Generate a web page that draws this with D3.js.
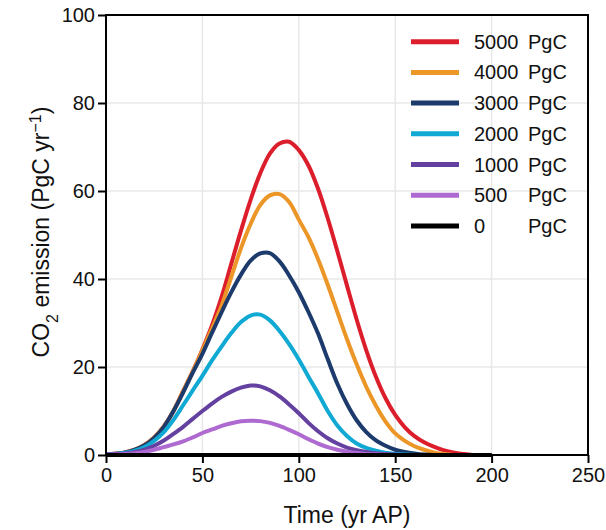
<!DOCTYPE html>
<html>
<head>
<meta charset="utf-8">
<script src="https://cdn.jsdelivr.net/npm/d3@7"></script>
<style>
  body { margin: 0; background: #fff; }
  text { font-family: "Liberation Sans", Arial, sans-serif; fill: #111; }
</style>
</head>
<body>
<svg id="chart" width="606" height="530"></svg>
<script>
// data (PgC/yr at 5-year steps, 0..200 yr AP)
const years = d3.range(0, 201, 5);
const seriesNames = ["5000", "4000", "3000", "2000", "1000", "500", "0"];
const seriesColors = ["#dc1e2c", "#ec9628", "#1c3b6c", "#0fa9d4", "#6440a0", "#ae6ad0", "#000000"];
const e5000 = [0.2, 0.3, 0.6, 1.2, 2.3, 4, 6.5, 10, 14.5, 19, 24, 29.5, 36, 43.5, 51, 58, 64, 68.5, 70.8, 71.2,
    69.3, 65.8, 60.5, 53.8, 46.3, 38.5, 30.8, 23.8, 17.8, 12.9, 9.1, 6.3, 4.3, 2.9, 1.9, 1.1, 0.6, 0.25, 0, 0, 0];
const e4000 = [0.2, 0.3, 0.6, 1.2, 2.3, 4, 6.5, 10, 14.5, 19, 23.8, 28.8, 34, 40.5, 47, 52.5, 56.8, 59, 59.3, 57.5,
    53.5, 49.5, 44.5, 38.7, 32.5, 26.3, 20.6, 15.5, 11.2, 7.6, 4.9, 3.2, 2, 1.2, 0.6, 0.25, 0, 0, 0, 0, 0];
const e3000 = [0.2, 0.3, 0.6, 1.2, 2.2, 3.9, 6.4, 10, 14.2, 18.7, 23, 27.8, 32.5, 37, 41, 44.2, 45.8, 45.9, 44, 40.8,
    37, 32.5, 27.6, 21.8, 16.2, 11.6, 7.9, 5.2, 3.3, 2.1, 1.2, 0.7, 0.35, 0.1, 0, 0, 0, 0, 0, 0, 0];
const e2000 = [0.15, 0.25, 0.5, 1, 1.8, 3.2, 5.2, 8, 11.3, 14.7, 18, 21.5, 24.7, 27.7, 30.2, 31.7, 31.9, 30.6, 28.2, 25.2,
    21.7, 17.8, 14, 10, 6.7, 4.3, 2.6, 1.6, 1, 0.5, 0.25, 0.1, 0, 0, 0, 0, 0, 0, 0, 0, 0];
const e1000 = [0.1, 0.2, 0.35, 0.7, 1.2, 2.1, 3.3, 4.8, 6.4, 8.2, 10, 11.7, 13.2, 14.4, 15.3, 15.8, 15.6, 14.7, 13.3, 11.5,
    9.5, 7.3, 5.4, 3.8, 2.6, 1.7, 1.1, 0.7, 0.4, 0.2, 0.1, 0, 0, 0, 0, 0, 0, 0, 0, 0, 0];
const e500 = [0.05, 0.1, 0.2, 0.4, 0.7, 1.2, 1.8, 2.4, 3.1, 4, 5, 5.8, 6.6, 7.2, 7.65, 7.8, 7.7, 7.3, 6.6, 5.7,
    4.7, 3.6, 2.6, 1.8, 1.2, 0.75, 0.45, 0.25, 0.15, 0.05, 0, 0, 0, 0, 0, 0, 0, 0, 0, 0, 0];
const e0 = [0, 0, 0, 0, 0, 0, 0, 0, 0, 0, 0, 0, 0, 0, 0, 0, 0, 0, 0, 0,
    0, 0, 0, 0, 0, 0, 0, 0, 0, 0, 0, 0, 0, 0, 0, 0, 0, 0, 0, 0, 0];
const xTicks = [0, 50, 100, 150, 200, 250];
const yTicks = [0, 20, 40, 60, 80, 100];

const allValues = [e5000, e4000, e3000, e2000, e1000, e500, e0];
const series = seriesNames.map((name, i) => ({
    name: name,
    color: seriesColors[i],
    points: years.map((t, j) => ({ t: t, v: allValues[i][j] }))
}));

const margin = { top: 15, right: 18, bottom: 75, left: 106 };
const width = 606 - margin.left - margin.right;
const height = 530 - margin.top - margin.bottom;

const svg = d3.select("#chart")
    .append("g")
    .attr("transform", `translate(${margin.left},${margin.top})`);

const x = d3.scaleLinear().domain([0, 250]).range([0, width]);
const y = d3.scaleLinear().domain([0, 100]).range([height, 0]);

// grid
svg.append("g").selectAll("line")
    .data(xTicks)
    .join("line")
    .attr("x1", d => x(d)).attr("x2", d => x(d))
    .attr("y1", 0).attr("y2", height)
    .attr("stroke", "#e8e8e8").attr("stroke-width", 1.5);

svg.append("g").selectAll("line")
    .data(yTicks)
    .join("line")
    .attr("x1", 0).attr("x2", width)
    .attr("y1", d => y(d)).attr("y2", d => y(d))
    .attr("stroke", "#e8e8e8").attr("stroke-width", 1.5);

// curves
const line = d3.line()
    .x(d => x(d.t))
    .y(d => y(Math.max(0, d.v)))
    .curve(d3.curveCatmullRom.alpha(0.5));

svg.append("g").selectAll("path")
    .data(series)
    .join("path")
    .attr("d", d => line(d.points))
    .attr("fill", "none")
    .attr("stroke", d => d.color)
    .attr("stroke-width", 4)
    .attr("stroke-linejoin", "round");

// axes
const xAxis = svg.append("g")
    .attr("transform", `translate(0,${height})`)
    .call(d3.axisBottom(x).tickValues(xTicks).tickSize(8).tickPadding(5));

const yAxis = svg.append("g")
    .call(d3.axisLeft(y).tickValues(yTicks).tickSize(8).tickPadding(3));

[xAxis, yAxis].forEach(a => {
    a.select(".domain").remove();
    a.selectAll(".tick line").attr("stroke", "#000").attr("stroke-width", 2);
    a.selectAll(".tick text")
        .style("font-family", "'Liberation Sans', Arial, sans-serif")
        .style("font-size", "20px")
        .attr("fill", "#111");
});

// frame
svg.append("rect")
    .attr("width", width)
    .attr("height", height)
    .attr("fill", "none")
    .attr("stroke", "#000")
    .attr("stroke-width", 2);

// axis titles
svg.append("text")
    .attr("x", width / 2)
    .attr("y", height + 68)
    .attr("text-anchor", "middle")
    .style("font-size", "23px")
    .text("Time (yr AP)");

const yTitle = svg.append("text")
    .attr("transform", `translate(${48.5 - margin.left},${height / 2 - 3}) rotate(-90)`)
    .attr("text-anchor", "middle")
    .style("font-size", "23px");
yTitle.append("tspan").text("CO");
yTitle.append("tspan").attr("baseline-shift", "sub").style("font-size", "16px").text("2");
yTitle.append("tspan").text(" emission (PgC yr");
yTitle.append("tspan").attr("baseline-shift", "super").style("font-size", "16px").text("\u22121");
yTitle.append("tspan").text(")");

// legend
const legend = svg.append("g")
    .attr("transform", `translate(${411 - margin.left},${41.7 - margin.top})`);

const rows = legend.selectAll("g")
    .data(series)
    .join("g")
    .attr("transform", (d, i) => `translate(0,${i * 30.7})`);

rows.append("line")
    .attr("x1", 0).attr("x2", 48)
    .attr("stroke", d => d.color)
    .attr("stroke-width", 5);

rows.append("text")
    .attr("x", 63)
    .attr("dy", "0.35em")
    .style("font-size", "20px")
    .text(d => d.name);

rows.append("text")
    .attr("x", 117)
    .attr("dy", "0.35em")
    .style("font-size", "20px")
    .text("PgC");
</script>
</body>
</html>
